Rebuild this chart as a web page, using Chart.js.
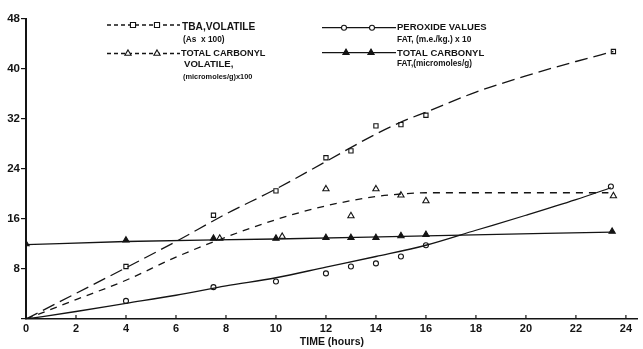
<!DOCTYPE html>
<html><head><meta charset="utf-8">
<script src="https://cdn.jsdelivr.net/npm/chart.js@4/dist/chart.umd.min.js"></script>
<style>html,body{margin:0;padding:0;background:#fff;overflow:hidden}canvas{display:block}</style>
</head><body>
<canvas id="c" width="643" height="349"></canvas>
<script>
// ---- data ----
const xTickLabels = ['0','2','4','6','8','10','12','14','16','18','20','22','24'];
const yTickLabels = ['8','16','24','32','40','48'];

// TBA, volatile (As x 100) - open squares, long dashed curve
const tbaHours  = [4, 7.5, 10, 12, 13, 14, 15, 16, 23.5];
const tbaValues = [8.4, 16.6, 20.5, 25.8, 26.9, 30.9, 31.1, 32.6, 42.8];
const tbaCurveHours  = [0, 2, 4, 6, 8, 10, 12, 14, 15, 16, 18, 20, 22, 23.5];
const tbaCurveValues = [0, 4.1, 8.2, 12.4, 16.8, 20.8, 25.2, 29.6, 31.5, 33.1, 36.3, 38.9, 41.2, 42.8];

// Total carbonyl volatile (micromoles/g) x 100 - open triangles, dashed curve
const volHours  = [7.75, 10.25, 12, 13, 14, 15, 16, 23.5];
const volValues = [12.9, 13.2, 20.8, 16.5, 20.8, 19.8, 18.9, 19.7];
const volCurveHours  = [0, 2, 4, 6, 8, 10, 12, 14, 15, 16, 18, 20, 22, 23.3];
const volCurveValues = [0, 3.1, 6.2, 9.9, 13.1, 15.9, 18.1, 19.6, 20.0, 20.2, 20.2, 20.2, 20.2, 20.2];

// Peroxide values fat (m.e./kg) x 10 - open circles, solid curve
const perHours  = [4, 7.5, 10, 12, 13, 14, 15, 16, 23.4];
const perValues = [2.9, 5.1, 6.0, 7.3, 8.4, 8.9, 10.0, 11.8, 21.2];
const perCurveHours  = [0, 2, 4, 6, 8, 10, 12, 14, 16, 18, 20, 22, 23.4];
const perCurveValues = [0, 1.2, 2.5, 3.8, 5.3, 6.6, 8.3, 10.0, 11.8, 14.2, 16.6, 19.1, 21.0];

// Total carbonyl fat (micromoles/g) - filled triangles, solid line
const fatHours  = [0, 4, 7.5, 10, 12, 13, 14, 15, 16, 23.45];
const fatValues = [12.0, 12.6, 12.9, 12.9, 13.0, 13.0, 13.0, 13.3, 13.5, 14.0];
const fatCurveHours  = [0, 4, 10, 16, 23.45];
const fatCurveValues = [11.9, 12.4, 12.8, 13.3, 13.9];

// ---- helpers ----
const ink = '#141414';
const FONT = '"Liberation Sans", Arial, sans-serif';
const pts = (xs, ys) => xs.map((x, i) => ({x, y: ys[i]}));

function curve(xs, ys, dash) {
  return {type: 'line', data: pts(xs, ys), borderColor: ink, borderWidth: 1.3,
    borderDash: dash, pointRadius: 0, tension: 0.35, cubicInterpolationMode: 'monotone', fill: false};
}
function markers(xs, ys, style, r, filled) {
  return {type: 'line', data: pts(xs, ys), showLine: false, pointStyle: style, pointRadius: r,
    pointBorderWidth: 1.1, pointBorderColor: ink, pointBackgroundColor: filled ? ink : '#fff'};
}

function drawMarker(ctx, style, x, y, r, filled) {
  ctx.save();
  ctx.beginPath();
  if (style === 'rect') {
    const s = r / Math.SQRT2 * 1.2;
    ctx.rect(x - s, y - s, 2 * s, 2 * s);
  } else if (style === 'circle') {
    ctx.arc(x, y, r, 0, Math.PI * 2);
  } else {
    for (let k = 0; k < 3; k++) {
      const a = -Math.PI / 2 + k * 2 * Math.PI / 3;
      const px = x + Math.cos(a) * r, py = y + Math.sin(a) * r;
      k ? ctx.lineTo(px, py) : ctx.moveTo(px, py);
    }
    ctx.closePath();
  }
  ctx.fillStyle = filled ? ink : '#fff';
  ctx.fill();
  ctx.lineWidth = 1.1; ctx.strokeStyle = ink; ctx.setLineDash([]);
  ctx.stroke();
  ctx.restore();
}

const legendEntries = [
  {x0: 107, x1: 180, y: 25, dash: [4, 3], style: 'rect', r: 3, filled: false, marks: [133, 157],
   lines: [['TBA,VOLATILE', 182, 27, 10.2], ['(As  x 100)', 183, 39.5, 8.3]]},
  {x0: 107, x1: 180, y: 53.5, dash: [4, 3], style: 'triangle', r: 3.6, filled: false, marks: [128, 157],
   lines: [['TOTAL CARBONYL', 181, 53, 9.2], ['VOLATILE,', 184, 64.5, 9.6], ['(micromoles/g)x100', 183, 77, 7.4]]},
  {x0: 322, x1: 396, y: 27.7, dash: [], style: 'circle', r: 2.5, filled: false, marks: [344, 372],
   lines: [['PEROXIDE VALUES', 397, 27.5, 9.5], ['FAT, (m.e./kg.) x 10', 397, 39.5, 8.4]]},
  {x0: 322, x1: 396, y: 52.7, dash: [], style: 'triangle', r: 3.6, filled: true, marks: [346, 371],
   lines: [['TOTAL CARBONYL', 397, 53, 9.5], ['FAT,(micromoles/g)', 397, 64, 8.2]]}
];

const decor = {
  id: 'decor',
  afterDraw(chart) {
    const ctx = chart.ctx;
    const xs = chart.scales.x;
    const bottom = chart.chartArea.bottom;
    // inner tick marks on the time axis
    ctx.save();
    ctx.strokeStyle = ink; ctx.lineWidth = 1.2;
    xs.ticks.forEach(t => {
      if (t.value === 0) return;
      const px = xs.getPixelForValue(t.value);
      ctx.beginPath(); ctx.moveTo(px, bottom); ctx.lineTo(px, bottom - 4); ctx.stroke();
    });
    ctx.restore();
    // legend
    legendEntries.forEach(e => {
      ctx.save();
      ctx.strokeStyle = ink; ctx.lineWidth = 1.3; ctx.setLineDash(e.dash);
      ctx.beginPath(); ctx.moveTo(e.x0, e.y); ctx.lineTo(e.x1, e.y); ctx.stroke();
      ctx.restore();
      e.marks.forEach(mx => drawMarker(ctx, e.style, mx, e.y, e.r, e.filled));
      ctx.save();
      ctx.fillStyle = ink; ctx.textBaseline = 'middle'; ctx.textAlign = 'left';
      e.lines.forEach(([txt, tx, ty, fs]) => {
        ctx.font = 'bold ' + fs + 'px ' + FONT;
        ctx.fillText(txt, tx, ty);
      });
      ctx.restore();
    });
  }
};

new Chart(document.getElementById('c'), {
  type: 'line',
  data: {
    datasets: [
      curve(tbaCurveHours, tbaCurveValues, [13, 6]),
      curve(volCurveHours, volCurveValues, [7, 6]),
      curve(perCurveHours, perCurveValues, []),
      curve(fatCurveHours, fatCurveValues, []),
      markers(tbaHours, tbaValues, 'rect', 3, false),
      markers(volHours, volValues, 'triangle', 3.6, false),
      markers(perHours, perValues, 'circle', 2.5, false),
      markers(fatHours, fatValues, 'triangle', 3.6, true)
    ]
  },
  options: {
    responsive: false,
    devicePixelRatio: 1,
    animation: false,
    layout: {padding: {top: 19, right: 0, left: 0, bottom: 0}},
    plugins: {legend: {display: false}, tooltip: {enabled: false}},
    scales: {
      x: {
        type: 'linear', min: 0, max: 24.48,
        afterFit(s) { s.height = 30; },
        ticks: {stepSize: 2, includeBounds: false, autoSkip: false, maxRotation: 0, padding: 3,
          color: ink, font: {family: FONT, size: 11, weight: 'bold'},
          callback: (v) => xTickLabels[v / 2] !== undefined && Number.isInteger(v / 2) ? xTickLabels[v / 2] : ''},
        grid: {display: true, drawOnChartArea: false, drawTicks: false},
        border: {display: true, color: ink, width: 1.6},
        title: {display: true, text: 'TIME (hours)', color: ink,
          font: {family: FONT, size: 10.5, weight: 'bold', lineHeight: 1.2}, padding: {top: 0, bottom: 1}}
      },
      y: {
        min: 0, max: 48,
        afterFit(s) { s.width = 26; },
        ticks: {stepSize: 8, padding: 1, color: ink, font: {family: FONT, size: 11.5, weight: 'bold'},
          callback: (v) => v === 0 ? '' : yTickLabels[v / 8 - 1]},
        grid: {display: true, drawOnChartArea: false, drawTicks: true, tickLength: 5, color: ink, lineWidth: 1.2},
        border: {display: true, color: ink, width: 2}
      }
    }
  },
  plugins: [decor]
});
</script>
</body></html>
